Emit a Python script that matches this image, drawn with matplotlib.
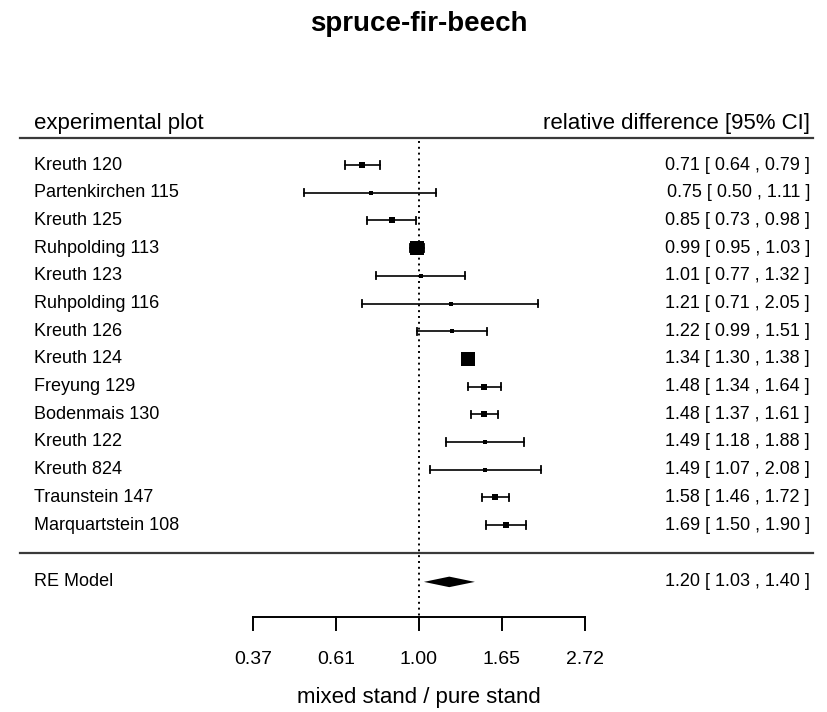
import numpy as np
import matplotlib
matplotlib.use('Agg')
import matplotlib.pyplot as plt
import matplotlib.transforms as mtransforms

plt.rcParams['font.family'] = ['Liberation Sans', 'DejaVu Sans']

# data
plots = ['Kreuth 120', 'Partenkirchen 115', 'Kreuth 125', 'Ruhpolding 113',
         'Kreuth 123', 'Ruhpolding 116', 'Kreuth 126', 'Kreuth 124',
         'Freyung 129', 'Bodenmais 130', 'Kreuth 122', 'Kreuth 824',
         'Traunstein 147', 'Marquartstein 108']
est = [0.71, 0.75, 0.85, 0.99, 1.01, 1.21, 1.22, 1.34, 1.48, 1.48, 1.49, 1.49, 1.58, 1.69]
ci_lo = [0.64, 0.50, 0.73, 0.95, 0.77, 0.71, 0.99, 1.30, 1.34, 1.37, 1.18, 1.07, 1.46, 1.50]
ci_hi = [0.79, 1.11, 0.98, 1.03, 1.32, 2.05, 1.51, 1.38, 1.64, 1.61, 1.88, 2.08, 1.72, 1.90]
# estimated study weights (%) - only visible through square size
weights = [5.0, 3.0, 4.0, 26.0, 2.0, 2.0, 3.0, 24.0, 5.0, 6.0, 2.0, 2.0, 6.0, 5.0]
re_label = 'RE Model'
re_est, re_lo, re_hi = 1.20, 1.03, 1.40
tick_vals = [-1, -0.5, 0, 0.5, 1]

fig = plt.figure(figsize=(8.28, 7.12), dpi=100)
ax = fig.add_axes([0, 0, 1, 1])
# x in log units: 1.00 sits at 419 px, one log unit = 166 px
ax.set_xlim(-419 / 166, (828 - 419) / 166)
# y in row units: first row at 165 px, rows 27.7 px apart
row_h = 27.7
ax.set_ylim((712 - 165) / row_h, -165 / row_h)
ax.axis('off')

tr = mtransforms.blended_transform_factory(ax.transAxes, ax.transData)
x_left, x_right = 34 / 828, 810 / 828
line_l, line_r = 20 / 828, 813 / 828
n = len(plots)
rows = np.arange(n)
y_re = n + 1.05
y_axis = n + 2.32

# title and header
ax.text(0.506, -5.1, 'spruce-fir-beech', transform=tr, ha='center', va='center',
        fontsize=20, fontweight='bold')
ax.text(x_left, -1.5, 'experimental plot', transform=tr, ha='left', va='center', fontsize=16)
ax.text(x_right, -1.5, 'relative difference [95% CI]', transform=tr, ha='right', va='center', fontsize=16)
ax.plot([line_l, line_r], [-0.97, -0.97], transform=tr, color='#3a3a3a', lw=1.6)
ax.plot([line_l, line_r], [n + 0.0, n + 0.0], transform=tr, color='#3a3a3a', lw=1.6)

# reference line at 1
ax.plot([0, 0], [-0.85, y_axis], color='black', lw=1.4, linestyle=(0, (1, 2.0)))

# studies
lest = np.log(est)
llo = np.log(ci_lo)
lhi = np.log(ci_hi)
cap = 0.13
for i in range(n):
    ax.plot([llo[i], lhi[i]], [rows[i], rows[i]], color='black', lw=1.2)
    ax.plot([llo[i], llo[i]], [rows[i] - cap, rows[i] + cap], color='black', lw=1.3)
    ax.plot([lhi[i], lhi[i]], [rows[i] - cap, rows[i] + cap], color='black', lw=1.3)
    side = 2.7 * np.sqrt(weights[i]) / (100 / 72)
    ax.plot(lest[i], rows[i], marker='s', color='black', markersize=side, markeredgewidth=0)
    ax.text(x_left, rows[i], plots[i], transform=tr, ha='left', va='center', fontsize=13)
    ax.text(x_right, rows[i], '%.2f [ %.2f , %.2f ]' % (est[i], ci_lo[i], ci_hi[i]),
            transform=tr, ha='right', va='center', fontsize=13)

# summary diamond
dh = 0.19
ax.fill([np.log(re_lo), np.log(re_est), np.log(re_hi), np.log(re_est)],
        [y_re, y_re - dh, y_re, y_re + dh], color='black', lw=0)
ax.text(x_left, y_re, re_label, transform=tr, ha='left', va='center', fontsize=13)
ax.text(x_right, y_re, '%.2f [ %.2f , %.2f ]' % (re_est, re_lo, re_hi),
        transform=tr, ha='right', va='center', fontsize=13)

# x axis
ax.plot([tick_vals[0], tick_vals[-1]], [y_axis, y_axis], color='black', lw=1.4)
for t in tick_vals:
    ax.plot([t, t], [y_axis, y_axis + 0.47], color='black', lw=1.4)
    ax.text(t, y_axis + 1.55, '%.2f' % np.exp(t), ha='center', va='center', fontsize=14)
ax.text(0, y_axis + 2.92, 'mixed stand / pure stand', ha='center', va='center', fontsize=16)

plt.savefig('out.png', dpi=100)
